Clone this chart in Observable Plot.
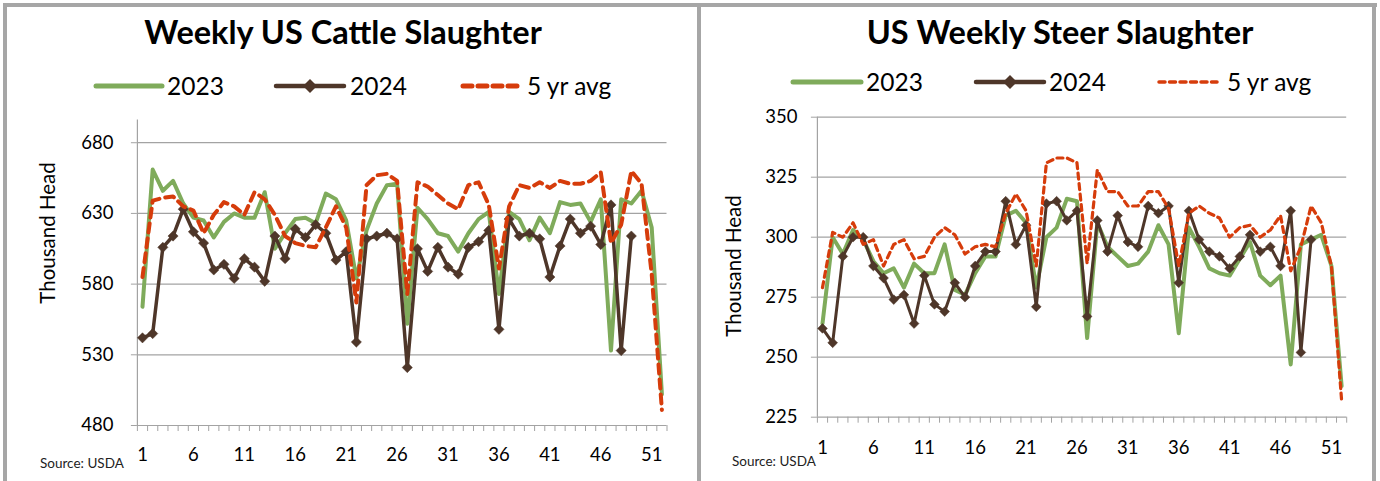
<!DOCTYPE html>
<html>
<head>
<meta charset="utf-8">
<script src="https://cdn.jsdelivr.net/npm/d3@7"></script>
<script src="https://cdn.jsdelivr.net/npm/@observablehq/plot@0.6"></script>
<style>
  html, body { margin: 0; padding: 0; background: #fff; }
  body { width: 1380px; height: 481px; position: relative; overflow: hidden; font-family: Lato, "Noto Sans", sans-serif; color: #000; }
  .abs { position: absolute; }
  .title { font-weight: bold; font-size: 32.5px; white-space: nowrap; transform: translateX(-50%); line-height: 1; }
  .leg { font-size: 24.5px; white-space: nowrap; line-height: 1; }
  .src { font-size: 13.5px; white-space: nowrap; color: #222; }
  .ytitle { font-size: 20.5px; white-space: nowrap; transform: translate(-50%, -50%) rotate(-90deg); line-height: 1; }
</style>
</head>
<body>
<script>
// ---- data ----
const weeks = d3.range(1, 53);
const xTickLabels = [1, 6, 11, 16, 21, 26, 31, 36, 41, 46, 51];
const seriesNames = ["2023", "2024", "5 yr avg"];

const cattle2023 = [564, 661, 646, 653, 637, 627, 625, 613, 624, 630, 627, 627, 645, 605, 616, 626, 627, 623, 644, 640, 625, 584, 618, 637, 650, 651, 552, 634, 626, 616, 614, 603, 616, 626, 631, 573, 631, 626, 611, 627, 616, 638, 636, 637, 624, 640, 533, 640, 637, 646, 620, 502];
const cattle2024 = [542, 545, 606, 614, 633, 617, 609, 590, 594, 584, 598, 592, 582, 614, 598, 619, 613, 622, 616, 597, 603, 539, 612, 614, 616, 612, 521, 605, 589, 606, 592, 587, 606, 610, 618, 548, 626, 614, 616, 612, 585, 607, 626, 616, 621, 608, 636, 533, 614];
const cattleAvg = [585, 639, 641, 642, 635, 632, 616, 629, 638, 635, 629, 645, 640, 629, 614, 609, 607, 606, 620, 635, 620, 567, 650, 657, 658, 653, 573, 652, 649, 643, 637, 633, 650, 652, 636, 591, 635, 650, 648, 652, 648, 653, 651, 651, 653, 659, 609, 622, 660, 651, 587, 491];
const cattleYTicks = [480, 530, 580, 630, 680];

const steer2023 = [264, 300, 293, 303, 299, 290, 285, 287, 279, 289, 285, 285, 297, 278, 276, 285, 292, 292, 309, 311, 306, 279, 300, 304, 316, 315, 258, 306, 296, 292, 288, 289, 294, 305, 297, 260, 304, 296, 287, 285, 284, 291, 298, 284, 280, 284, 247, 297, 299, 301, 288, 238];
const steer2024 = [262, 256, 292, 300, 300, 288, 283, 274, 276, 264, 284, 272, 269, 281, 275, 288, 294, 294, 315, 297, 305, 271, 314, 315, 307, 311, 267, 307, 294, 309, 298, 296, 313, 310, 313, 281, 311, 299, 294, 292, 287, 292, 301, 294, 296, 288, 311, 252, 299];
const steerAvg = [279, 302, 300, 306, 297, 299, 288, 297, 299, 291, 292, 300, 304, 301, 293, 296, 297, 296, 310, 318, 311, 288, 331, 333, 333, 331, 289, 328, 319, 319, 313, 313, 319, 319, 312, 288, 310, 313, 310, 308, 300, 304, 305, 300, 303, 309, 286, 296, 313, 306, 288, 232];
const steerYTicks = [225, 250, 275, 300, 325, 350];

// ---- styles ----
const GREEN = "#7fab5b", BROWN = "#4e3629", RED = "#d63c0b", GRID = "#a3a3a3";

function toRows(arr) { return arr.map((v, i) => ({ week: i + 1, value: v })); }

function makeChart(cfg) {
  const boundaries = d3.range(0.5, 53, 1);
  return Plot.plot({
    width: cfg.width, height: 481,
    marginLeft: cfg.ml, marginRight: cfg.mr, marginTop: cfg.mt, marginBottom: cfg.mb,
    style: { fontFamily: "Lato, sans-serif", fontSize: "18px", color: "#000", background: "transparent", overflow: "visible" },
    x: { domain: [0.5, 52.5], axis: null },
    y: { domain: cfg.yDomain, axis: null },
    marks: [
      Plot.ruleY(cfg.yTicks, { x1: 0.5, x2: 52.5, stroke: GRID, strokeWidth: 1.2 }),
      Plot.axisY({ ticks: cfg.yTicks, tickSize: 6, tickPadding: cfg.yPad, stroke: GRID, strokeOpacity: 1, fontSize: 18.5, fill: "#000", label: null }),
      Plot.ruleX([0.5], { y1: cfg.yDomain[0], y2: cfg.yDomain[1], stroke: GRID, strokeWidth: 1.2 }),
      Plot.axisX({ ticks: boundaries, tickSize: 6, tickFormat: () => "", stroke: GRID, strokeOpacity: 1, label: null }),
      Plot.axisX({ ticks: xTickLabels, tickSize: 0, tickPadding: cfg.xPad, fontSize: 18.5, fill: "#000", tickFormat: d => String(d), label: null }),
      Plot.line(toRows(cfg.s2023), { x: "week", y: "value", stroke: GREEN, strokeWidth: 4, curve: "linear" }),
      Plot.line(toRows(cfg.s2024), { x: "week", y: "value", stroke: BROWN, strokeWidth: cfg.bw }),
      Plot.dot(toRows(cfg.s2024), { x: "week", y: "value", symbol: "diamond2", r: cfg.dr, fill: BROWN, stroke: BROWN, strokeWidth: 0.5 }),
      Plot.line(toRows(cfg.avg), { x: "week", y: "value", stroke: RED, strokeWidth: cfg.rw, strokeDasharray: cfg.dash, strokeLinecap: "round" })
    ]
  });
}

function place(el, left, top) {
  el.style.position = "absolute"; el.style.left = left + "px"; el.style.top = top + "px";
  document.body.appendChild(el);
}

const left = makeChart({ width: 697, ml: 136.9, mr: 30.5, mt: 119.6, mb: 56, yDomain: [480, 696], yTicks: cattleYTicks,
  yPad: 18, xPad: 22, s2023: cattle2023, s2024: cattle2024, avg: cattleAvg, bw: 3.5, dr: 4.6, rw: 4, dash: "9,6" });
place(left, 0, 0);

const right = makeChart({ width: 671, ml: 115.9, mr: 25.8, mt: 116.7, mb: 64.3, yDomain: [225, 350], yTicks: steerYTicks,
  yPad: 14, xPad: 23.5, s2023: steer2023, s2024: steer2024, avg: steerAvg, bw: 3, dr: 4.4, rw: 3.2, dash: "6,4.5" });
place(right, 701, 0);

// frame
function box(l, t, w, h) { const d = document.createElement("div"); d.className = "abs"; Object.assign(d.style, { left: l + "px", top: t + "px", width: w + "px", height: h + "px", background: "#a6a6a6" }); document.body.appendChild(d); }
box(3, 3, 1374, 4); box(3, 3, 4, 478); box(1372, 3, 4, 478); box(697, 3, 4, 478);

function text(cls, content, l, t) { const d = document.createElement("div"); d.className = "abs " + cls; d.textContent = content; d.style.left = l + "px"; d.style.top = t + "px"; document.body.appendChild(d); return d; }

text("title", "Weekly US Cattle Slaughter", 343, 16);
text("title", "US Weekly Steer Slaughter", 1060, 16);

function legendSwatch(kind, l, cy, w, dash, rw) {
  const ns = "http://www.w3.org/2000/svg";
  const s = document.createElementNS(ns, "svg");
  s.setAttribute("width", w + 12); s.setAttribute("height", 20);
  s.style.position = "absolute"; s.style.left = (l - 6) + "px"; s.style.top = (cy - 10) + "px";
  const ln = document.createElementNS(ns, "line");
  ln.setAttribute("x1", 6); ln.setAttribute("x2", w + 6); ln.setAttribute("y1", 10); ln.setAttribute("y2", 10);
  ln.setAttribute("stroke-linecap", "round");
  if (kind === "2023") { ln.setAttribute("stroke", GREEN); ln.setAttribute("stroke-width", 5); }
  if (kind === "2024") { ln.setAttribute("stroke", BROWN); ln.setAttribute("stroke-width", 4.5); }
  if (kind === "avg") { ln.setAttribute("stroke", RED); ln.setAttribute("stroke-width", rw); ln.setAttribute("stroke-dasharray", dash); }
  s.appendChild(ln);
  if (kind === "2024") {
    const p = document.createElementNS(ns, "path");
    const c = 6 + w / 2;
    p.setAttribute("d", `M${c},3 L${c + 7},10 L${c},17 L${c - 7},10 Z`);
    p.setAttribute("fill", BROWN);
    s.appendChild(p);
  }
  document.body.appendChild(s);
}

// left legend
legendSwatch("2023", 96, 86, 66);
text("leg", seriesNames[0], 167, 74);
legendSwatch("2024", 276, 86, 68);
text("leg", seriesNames[1], 350, 74);
legendSwatch("avg", 463, 86, 57, "9,6", 5);
text("leg", seriesNames[2], 527, 74);

// right legend
legendSwatch("2023", 793, 82, 68);
text("leg", seriesNames[0], 866, 70);
legendSwatch("2024", 976, 82, 68);
text("leg", seriesNames[1], 1049, 70);
legendSwatch("avg", 1159, 82, 58, "6,4.5", 3.5);
text("leg", seriesNames[2], 1227, 70);

// y titles
text("ytitle", "Thousand Head", 47, 233);
text("ytitle", "Thousand Head", 733, 266);

// sources
text("src", "Source: USDA", 40, 455);
text("src", "Source: USDA", 732, 453);
</script>
</body>
</html>
